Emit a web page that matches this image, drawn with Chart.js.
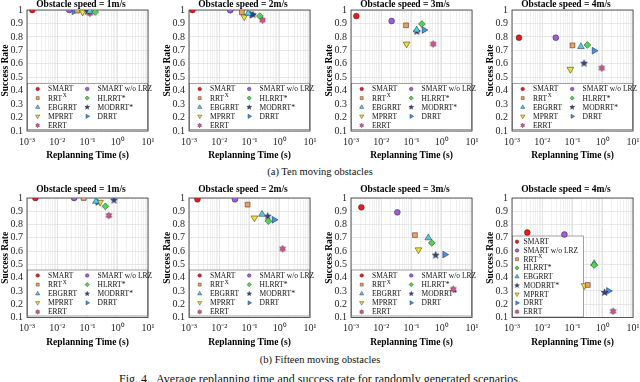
<!DOCTYPE html>
<html>
<head>
<meta charset="utf-8">
<script src="https://cdn.jsdelivr.net/npm/chart.js@4.4.1/dist/chart.umd.min.js"></script>
<style>
  body { margin: 0; width: 640px; height: 382px; background: #fff; position: relative; overflow: hidden; font-family: "Liberation Serif", serif; }
  canvas { position: absolute; }
  .cap { position: absolute; left: 0; width: 640px; text-align: center; color: #111; white-space: nowrap; }
</style>
</head>
<body>
<canvas id="ten1" width="162" height="162" style="left:0px;top:0px"></canvas>
<canvas id="ten2" width="162" height="162" style="left:162px;top:0px"></canvas>
<canvas id="ten3" width="162" height="162" style="left:324px;top:0px"></canvas>
<canvas id="ten4" width="162" height="162" style="left:485px;top:0px"></canvas>
<div class="cap" style="top:165px;font-size:10.5px;line-height:14px">(a) Ten moving obstacles</div>
<canvas id="fif1" width="162" height="164" style="left:0px;top:185px"></canvas>
<canvas id="fif2" width="162" height="164" style="left:162px;top:185px"></canvas>
<canvas id="fif3" width="162" height="164" style="left:324px;top:185px"></canvas>
<canvas id="fif4" width="162" height="164" style="left:485px;top:185px"></canvas>
<div class="cap" style="top:353px;font-size:10.5px;line-height:14px">(b) Fifteen moving obstacles</div>
<div class="cap" style="top:372px;font-size:12px;line-height:14px">Fig. 4.&nbsp;&nbsp;Average replanning time and success rate for randomly generated scenarios.</div>
<script>
// methods, in legend order
const methods = ['SMART', 'SMART w/o LRZ', 'RRT^X', 'HLRRT*', 'EBGRRT', 'MODRRT*', 'MPRRT', 'DRRT', 'ERRT'];
const speeds = ['1m/s', '2m/s', '3m/s', '4m/s'];
const xTickLabels = ['10\u207B\u00B3', '10\u207B\u00B2', '10\u207B\u00B9', '10\u2070', '10\u00B9'];
const yTickLabels = ['0.1', '0.2', '0.3', '0.4', '0.5', '0.6', '0.7', '0.8', '0.9', '1'];

// (a) ten moving obstacles: replanning time (s) and success rate
const tenTime1 = [0.0015, 0.025, 0.046, 0.18, 0.12, 0.10, 0.069, 0.036, 0.12];
const tenRate1 = [1.0, 1.0, 0.995, 0.985, 0.99, 0.99, 0.985, 0.99, 0.975];
const tenTime2 = [0.0013, 0.023, 0.056, 0.22, 0.091, 0.13, 0.067, 0.12, 0.27];
const tenRate2 = [1.0, 0.998, 0.983, 0.955, 0.975, 0.965, 0.95, 0.965, 0.925];
const tenTime3 = [0.0015, 0.022, 0.066, 0.22, 0.148, 0.15, 0.069, 0.26, 0.52];
const tenRate3 = [0.955, 0.918, 0.886, 0.896, 0.851, 0.84, 0.747, 0.851, 0.747];
const tenTime4 = [0.0017, 0.028, 0.10, 0.31, 0.19, 0.24, 0.085, 0.52, 0.93];
const tenRate4 = [0.794, 0.794, 0.737, 0.74, 0.727, 0.603, 0.559, 0.697, 0.568];

// (b) fifteen moving obstacles
const fifTime1 = [0.0019, 0.036, 0.075, 0.39, 0.19, 0.75, 0.26, 0.22, 0.51];
const fifRate1 = [1.0, 1.0, 1.0, 0.937, 0.975, 0.983, 0.968, 0.97, 0.868];
const fifTime2 = [0.0019, 0.033, 0.087, 0.42, 0.26, 0.40, 0.145, 0.65, 1.25];
const fifRate2 = [0.99, 0.99, 0.95, 0.826, 0.877, 0.863, 0.85, 0.836, 0.617];
const fifTime3 = [0.0022, 0.034, 0.13, 0.47, 0.36, 0.63, 0.17, 1.26, 2.4];
const fifRate3 = [0.93, 0.892, 0.72, 0.662, 0.70, 0.569, 0.61, 0.574, 0.313];
const fifTime4 = [0.0032, 0.054, 0.32, 0.52, 0.52, 1.15, 0.25, 1.55, 2.2];
const fifRate4 = [0.74, 0.725, 0.345, 0.495, 0.506, 0.288, 0.34, 0.30, 0.147];

const serif = 'Liberation Serif';
const edge = 'rgba(40,40,40,0.85)';
const colors = ['rgb(235,25,25)', 'rgb(160,90,225)', 'rgb(242,160,90)', 'rgb(80,215,80)',
                'rgb(75,208,230)', 'rgb(45,65,150)', 'rgb(245,225,45)', 'rgb(60,150,240)', 'rgb(228,80,150)'];

function starMarker(color, points, outer, inner, size) {
  const c = document.createElement('canvas');
  c.width = c.height = size;
  const g = c.getContext('2d');
  g.beginPath();
  for (let i = 0; i < points * 2; i++) {
    const r = i % 2 ? inner : outer;
    const a = -Math.PI / 2 + i * Math.PI / points;
    g.lineTo(size / 2 + r * Math.cos(a), size / 2 + r * Math.sin(a));
  }
  g.closePath();
  g.fillStyle = color;
  g.fill();
  g.strokeStyle = edge;
  g.lineWidth = 0.6;
  g.stroke();
  return c;
}

const shapes = ['circle', 'circle', 'rect', 'rectRot', 'triangle',
                starMarker(colors[5], 5, 3.7, 1.5, 9), 'triangle', 'triangle',
                starMarker(colors[8], 6, 3.4, 1.9, 9)];
const rotations = [0, 0, 0, 0, 0, 0, 180, 90, 0];
const radii = [2.9, 2.9, 3.4, 3.4, 3.9, 4, 3.9, 3.9, 4];

// x grid positions: 1..9 x each decade
const xGrid = [];
for (let e = -3; e <= 0; e++) for (let m = 1; m <= 9; m++) xGrid.push(m * Math.pow(10, e));
xGrid.push(10);

// axes box + legend inside the plot
const boxLegend = {
  id: 'boxLegend',
  beforeDatasetsDraw(chart, args, o) {
    const {ctx, chartArea: a} = chart;
    ctx.save();
    // legend box
    const bx = a.left + 0.5, bw = o.width || (a.right - a.left - 1);
    const by = o.top != null ? a.top + o.top : a.bottom - o.bottomGap - o.height;
    const bh = o.top != null ? (a.bottom - 0.5 - by) : o.height;
    ctx.fillStyle = '#fff';
    ctx.fillRect(bx, by, bw, bh);
    ctx.strokeStyle = '#8a8a8a';
    ctx.lineWidth = 0.8;
    ctx.strokeRect(bx, by, bw, bh);
    methods.forEach((name, i) => {
      const col = i % o.cols, row = Math.floor(i / o.cols);
      const mx = a.left + o.markerX + col * o.colW;
      const tx = a.left + o.textX + col * o.colW;
      const y = by + o.firstRow + row * o.rowH;
      const st = shapes[i];
      if (typeof st !== 'string') {
        const s = st.width * 0.7;
        ctx.drawImage(st, mx - s / 2, y - s / 2, s, s);
      } else {
        ctx.fillStyle = colors[i];
        ctx.strokeStyle = edge;
        ctx.lineWidth = 0.5;
        Chart.helpers.drawPoint(ctx, {pointStyle: st, rotation: rotations[i], radius: radii[i] * 0.62, borderWidth: 0.5}, mx, y);
      }
      ctx.fillStyle = '#111';
      ctx.textBaseline = 'middle';
      ctx.textAlign = 'left';
      ctx.font = '7.5px "' + serif + '"';
      const parts = name.split('^');
      ctx.fillText(parts[0], tx, y + 0.5);
      if (parts[1]) {
        const w = ctx.measureText(parts[0]).width;
        ctx.font = '5.5px "' + serif + '"';
        ctx.fillText(parts[1], tx + w + 0.5, y - 2.5);
      }
    });
    // axes box
    ctx.strokeStyle = '#333';
    ctx.lineWidth = 0.8;
    ctx.strokeRect(a.left, a.top, a.right - a.left, a.bottom - a.top);
    ctx.restore();
  }
};

function makeChart(id, times, rates, speed, titlePad, xHeight, legendOpts) {
  const datasets = methods.map((name, i) => ({
    label: name,
    data: [{x: times[i], y: rates[i]}],
    pointStyle: shapes[i],
    rotation: rotations[i],
    pointRadius: radii[i],
    backgroundColor: colors[i],
    borderColor: edge,
    pointBorderWidth: 0.6,
    showLine: false
  }));
  return new Chart(document.getElementById(id), {
    type: 'scatter',
    data: {datasets: datasets},
    options: {
      responsive: false,
      animation: false,
      events: [],
      layout: {padding: 0},
      plugins: {
        legend: {display: false},
        tooltip: {enabled: false},
        title: {
          display: true,
          text: 'Obstacle speed = ' + speed,
          color: '#000',
          font: {family: serif, size: 9.5, weight: 'bold', lineHeight: 1},
          padding: {top: 0, bottom: titlePad}
        },
        boxLegend: legendOpts
      },
      scales: {
        x: {
          type: 'logarithmic',
          min: 0.001,
          max: 10,
          afterBuildTicks: s => { s.ticks = xGrid.map(v => ({value: v})); },
          afterFit: s => { s.height = xHeight; s.paddingLeft = 0; s.paddingRight = 14; },
          ticks: {
            autoSkip: false,
            maxRotation: 0,
            padding: 5,
            color: '#262626',
            font: {family: serif, size: 10},
            callback: v => {
              const e = Math.log10(v);
              return Math.abs(e - Math.round(e)) < 1e-9 ? xTickLabels[Math.round(e) + 3] : '';
            }
          },
          grid: {
            drawTicks: false,
            lineWidth: 0.8,
            color: c => {
              const e = Math.log10(c.tick.value);
              return Math.abs(e - Math.round(e)) < 1e-9 ? '#dcdcdc' : '#ececec';
            }
          },
          border: {display: false},
          title: {
            display: true,
            text: 'Replanning Time (s)',
            color: '#000',
            font: {family: serif, size: 9.5, weight: 'bold'},
            padding: {top: 0, bottom: 0.5}
          }
        },
        y: {
          min: 0.1,
          max: 1,
          afterFit: s => { s.width = 27; s.paddingTop = 0; s.paddingBottom = 0; },
          ticks: {
            stepSize: 0.1,
            autoSkip: false,
            padding: 4,
            color: '#262626',
            font: {family: serif, size: 10},
            callback: v => yTickLabels[Math.round(v * 10) - 1]
          },
          grid: {drawTicks: false, color: '#e2e2e2', lineWidth: 0.8},
          border: {display: false},
          title: {
            display: true,
            text: 'Success Rate',
            color: '#000',
            font: {family: serif, size: 9.5, weight: 'bold'},
            padding: {top: 0, bottom: 0}
          }
        }
      }
    },
    plugins: [boxLegend]
  });
}

const twoCol = {cols: 2, height: 46, bottomGap: 1.5, markerX: 10.7, textX: 21, colW: 49.5, firstRow: 5.5, rowH: 9.1};
const oneCol = {cols: 1, top: 38, width: 71, markerX: 5, textX: 11.5, colW: 0, firstRow: 5.7, rowH: 8.75};

makeChart('ten1', tenTime1, tenRate1, speeds[0], 0.5, 31, twoCol);
makeChart('ten2', tenTime2, tenRate2, speeds[1], 0.5, 31, twoCol);
makeChart('ten3', tenTime3, tenRate3, speeds[2], 0.5, 31, twoCol);
makeChart('ten4', tenTime4, tenRate4, speeds[3], 0.5, 31, twoCol);
makeChart('fif1', fifTime1, fifRate1, speeds[0], 3.5, 31.5, twoCol);
makeChart('fif2', fifTime2, fifRate2, speeds[1], 3.5, 31.5, twoCol);
makeChart('fif3', fifTime3, fifRate3, speeds[2], 3.5, 31.5, twoCol);
makeChart('fif4', fifTime4, fifRate4, speeds[3], 3.5, 31.5, oneCol);
</script>
</body>
</html>
